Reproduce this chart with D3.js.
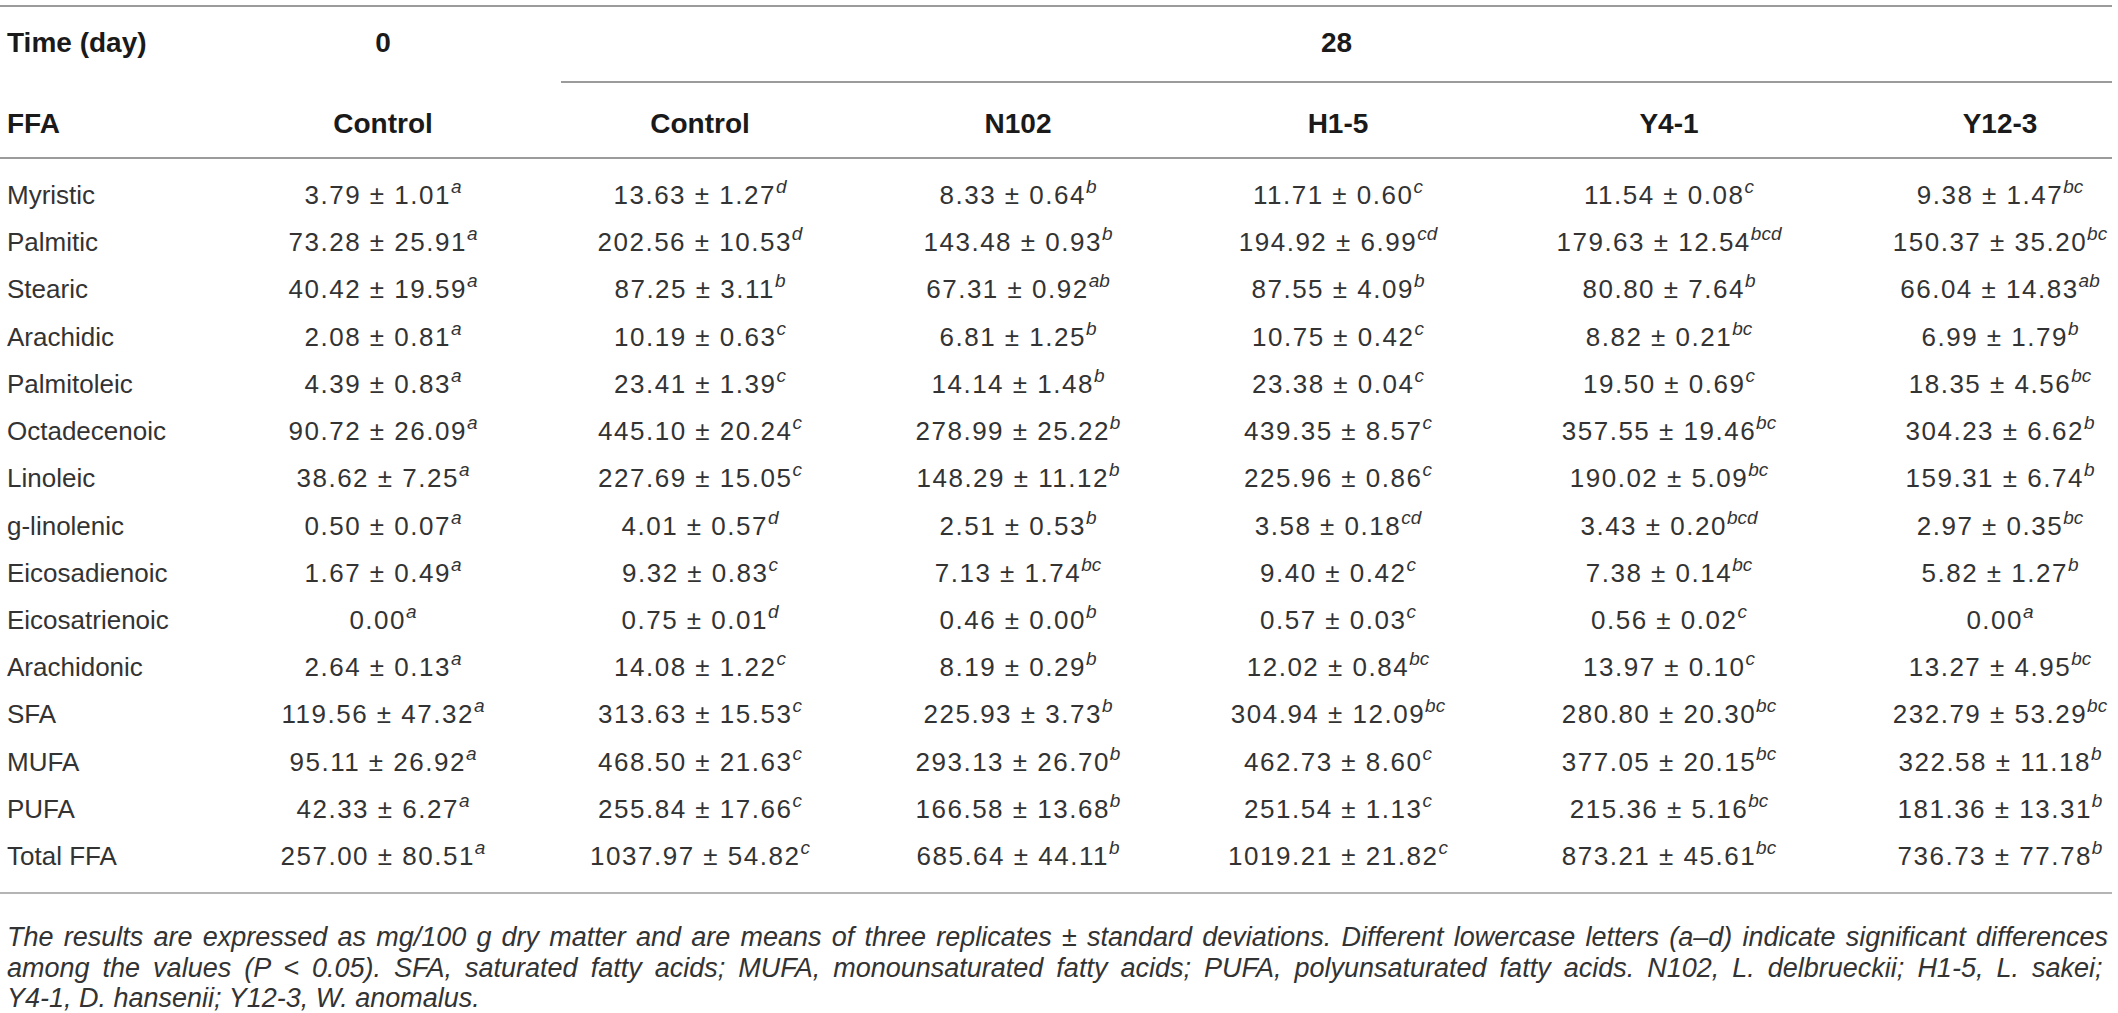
<!DOCTYPE html>
<html>
<head>
<meta charset="utf-8">
<script src="https://cdn.jsdelivr.net/npm/d3@7"></script>
<style>
    body { margin: 0; background: #fff; }
    svg { display: block; font-family: "Liberation Sans", Arial, sans-serif; }
</style>
</head>
<body>
<div id="table-area"></div>
<script>
// fatty acids (rows)
const acids = ["Myristic", "Palmitic", "Stearic", "Arachidic", "Palmitoleic", "Octadecenoic",
    "Linoleic", "g-linolenic", "Eicosadienoic", "Eicosatrienoic", "Arachidonic",
    "SFA", "MUFA", "PUFA", "Total FFA"];

// columns
const columnKeys = ["c0", "c28", "n102", "h15", "y41", "y123"];
const columnLabels = ["Control", "Control", "N102", "H1-5", "Y4-1", "Y12-3"];
const timeLabels = ["0", "28"];

// [mean, sd, letters]  (sd null when not given)
const control0 = [[3.79, 1.01, "a"], [73.28, 25.91, "a"], [40.42, 19.59, "a"], [2.08, 0.81, "a"],
    [4.39, 0.83, "a"], [90.72, 26.09, "a"], [38.62, 7.25, "a"], [0.50, 0.07, "a"], [1.67, 0.49, "a"],
    [0.00, null, "a"], [2.64, 0.13, "a"], [119.56, 47.32, "a"], [95.11, 26.92, "a"], [42.33, 6.27, "a"],
    [257.00, 80.51, "a"]];
const control28 = [[13.63, 1.27, "d"], [202.56, 10.53, "d"], [87.25, 3.11, "b"], [10.19, 0.63, "c"],
    [23.41, 1.39, "c"], [445.10, 20.24, "c"], [227.69, 15.05, "c"], [4.01, 0.57, "d"], [9.32, 0.83, "c"],
    [0.75, 0.01, "d"], [14.08, 1.22, "c"], [313.63, 15.53, "c"], [468.50, 21.63, "c"], [255.84, 17.66, "c"],
    [1037.97, 54.82, "c"]];
const n102 = [[8.33, 0.64, "b"], [143.48, 0.93, "b"], [67.31, 0.92, "ab"], [6.81, 1.25, "b"],
    [14.14, 1.48, "b"], [278.99, 25.22, "b"], [148.29, 11.12, "b"], [2.51, 0.53, "b"], [7.13, 1.74, "bc"],
    [0.46, 0.00, "b"], [8.19, 0.29, "b"], [225.93, 3.73, "b"], [293.13, 26.70, "b"], [166.58, 13.68, "b"],
    [685.64, 44.11, "b"]];
const h15 = [[11.71, 0.60, "c"], [194.92, 6.99, "cd"], [87.55, 4.09, "b"], [10.75, 0.42, "c"],
    [23.38, 0.04, "c"], [439.35, 8.57, "c"], [225.96, 0.86, "c"], [3.58, 0.18, "cd"], [9.40, 0.42, "c"],
    [0.57, 0.03, "c"], [12.02, 0.84, "bc"], [304.94, 12.09, "bc"], [462.73, 8.60, "c"], [251.54, 1.13, "c"],
    [1019.21, 21.82, "c"]];
const y41 = [[11.54, 0.08, "c"], [179.63, 12.54, "bcd"], [80.80, 7.64, "b"], [8.82, 0.21, "bc"],
    [19.50, 0.69, "c"], [357.55, 19.46, "bc"], [190.02, 5.09, "bc"], [3.43, 0.20, "bcd"], [7.38, 0.14, "bc"],
    [0.56, 0.02, "c"], [13.97, 0.10, "c"], [280.80, 20.30, "bc"], [377.05, 20.15, "bc"], [215.36, 5.16, "bc"],
    [873.21, 45.61, "bc"]];
const y123 = [[9.38, 1.47, "bc"], [150.37, 35.20, "bc"], [66.04, 14.83, "ab"], [6.99, 1.79, "b"],
    [18.35, 4.56, "bc"], [304.23, 6.62, "b"], [159.31, 6.74, "b"], [2.97, 0.35, "bc"], [5.82, 1.27, "b"],
    [0.00, null, "a"], [13.27, 4.95, "bc"], [232.79, 53.29, "bc"], [322.58, 11.18, "b"], [181.36, 13.31, "b"],
    [736.73, 77.78, "b"]];

const footnoteLines = [
    "The results are expressed as mg/100 g dry matter and are means of three replicates \u00b1 standard deviations. Different lowercase letters (a\u2013d) indicate significant differences",
    "among the values (P  < 0.05). SFA, saturated fatty acids; MUFA, monounsaturated fatty acids; PUFA, polyunsaturated fatty acids. N102, L. delbrueckii; H1-5, L. sakei;",
    "Y4-1, D. hansenii; Y12-3, W. anomalus."
];

const columns = [control0, control28, n102, h15, y41, y123];

const width = 2118, height = 1013;
const left = 7, right = 2112;

const svg = d3.select("#table-area").append("svg")
    .attr("width", width)
    .attr("height", height);

// scales
const x = d3.scaleOrdinal().domain(columnKeys).range([383, 700, 1018, 1338, 1669, 2000]);
const y = d3.scalePoint().domain(acids).range([195, 856]);
const fmt = d3.format(".2f");

// rules
const rule = (x1, x2, yy, col, w) => svg.append("line")
    .attr("x1", x1).attr("x2", x2).attr("y1", yy).attr("y2", yy)
    .attr("stroke", col).attr("stroke-width", w);
rule(0, right, 6, "#7a7a7a", 1.6);
rule(561, right, 82, "#7a7a7a", 1.6);
rule(0, right, 158, "#7a7a7a", 1.6);
rule(0, right, 893, "#b4b4b4", 2);

// header
const head = svg.append("g")
    .attr("font-weight", "bold")
    .attr("font-size", 28)
    .attr("fill", "#1a1a1a");

head.append("text").attr("x", left).attr("y", 52).text("Time (day)");
head.append("text").attr("x", x("c0")).attr("y", 52).attr("text-anchor", "middle").text(timeLabels[0]);
head.append("text").attr("x", (561 + right) / 2).attr("y", 52).attr("text-anchor", "middle").text(timeLabels[1]);

head.append("text").attr("x", left).attr("y", 133).text("FFA");
head.selectAll(".col-label")
    .data(columnKeys)
    .join("text")
    .attr("class", "col-label")
    .attr("x", d => x(d))
    .attr("y", 133)
    .attr("text-anchor", "middle")
    .text((d, i) => columnLabels[i]);

// body
const body = svg.append("g")
    .attr("font-size", 26)
    .attr("fill", "#333");

body.selectAll(".row-label")
    .data(acids)
    .join("text")
    .attr("class", "row-label")
    .attr("x", left)
    .attr("y", d => y(d) + 9)
    .text(d => d);

const cells = [];
columnKeys.forEach((k, ci) => {
    columns[ci].forEach((v, ri) => cells.push({ col: k, acid: acids[ri], mean: v[0], sd: v[1], sig: v[2] }));
});

const cell = body.selectAll(".cell")
    .data(cells)
    .join("text")
    .attr("class", "cell")
    .attr("x", d => x(d.col))
    .attr("y", d => y(d.acid) + 9)
    .attr("text-anchor", "middle");

cell.append("tspan")
    .attr("letter-spacing", 1.5)
    .text(d => d.sd === null ? fmt(d.mean) : fmt(d.mean) + " \u00b1 " + fmt(d.sd));
cell.append("tspan")
    .attr("dy", -11)
    .attr("font-size", 19)
    .attr("font-style", "italic")
    .text(d => d.sig);

// footnote, justified lines
const note = svg.append("g")
    .attr("font-size", 27)
    .attr("font-style", "italic")
    .attr("fill", "#333");

note.selectAll("text")
    .data(footnoteLines)
    .join("text")
    .attr("x", left)
    .attr("y", (d, i) => 946 + i * 30.5)
    .text(d => d)
    .each(function (d, i) {
        if (i === footnoteLines.length - 1) return;
        const natural = this.getComputedTextLength();
        const gaps = d.split(" ").length - 1;
        const extra = (right - 4 - left - natural) / gaps;
        d3.select(this).attr("word-spacing", extra);
    });
</script>
</body>
</html>
